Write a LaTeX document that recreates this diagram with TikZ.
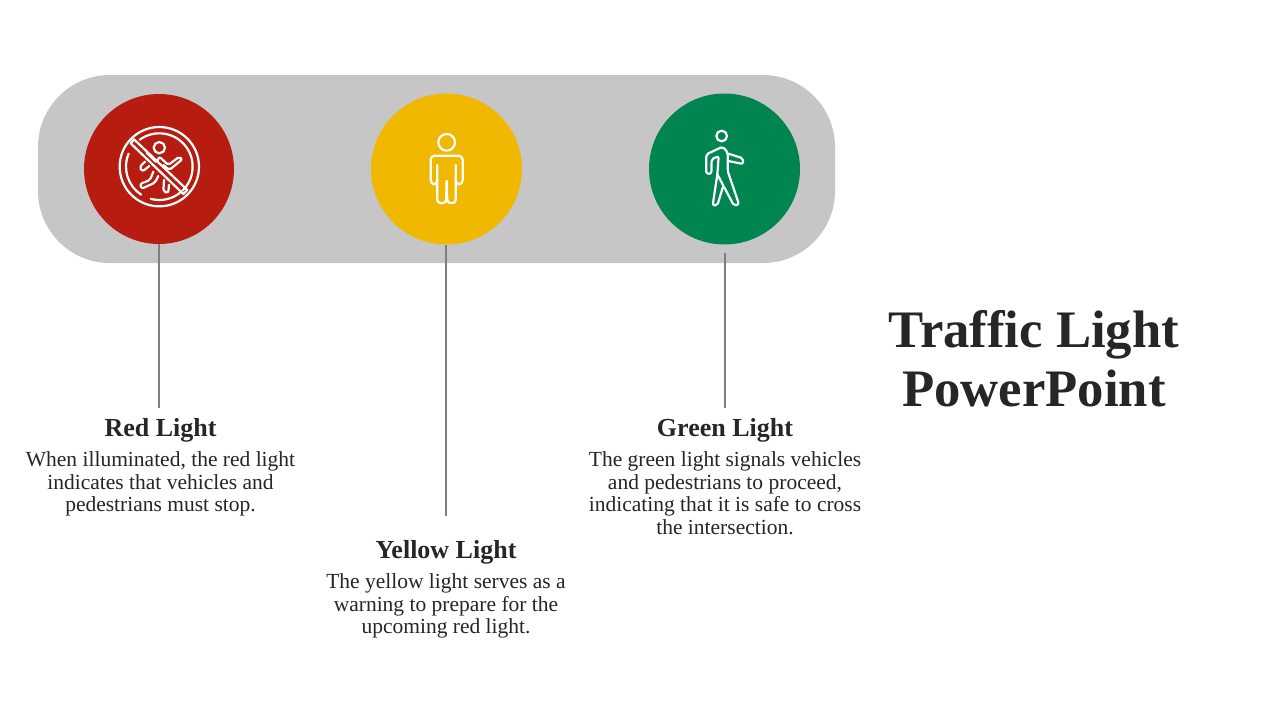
\documentclass[tikz,border=0pt]{standalone}
\usepackage{fontspec}
\setmainfont{Liberation Serif}
\definecolor{barcol}{HTML}{C6C6C6}
\definecolor{redcol}{HTML}{B71C10}
\definecolor{yelcol}{HTML}{F0B800}
\definecolor{grecol}{HTML}{008450}
\definecolor{txtcol}{HTML}{262626}
\definecolor{linecol}{HTML}{7F7F7F}
\tikzset{
  lamp/.style={circle,inner sep=0pt,minimum size=#1},
  stem/.style={draw=linecol,line width=1.6pt},
  icon/.style={draw=white,line width=2.2pt,line join=round,line cap=round},
  heading/.style={text=txtcol,font=\fontsize{26}{28}\selectfont\bfseries,anchor=base,inner sep=0pt},
  body/.style={text=txtcol,font=\fontsize{21.5}{22.6}\selectfont,align=center,anchor=north,inner sep=0pt},
  titletext/.style={text=txtcol,font=\fontsize{52.7}{59}\selectfont\bfseries,align=center,anchor=center,inner sep=0pt}
}
\begin{document}
\begin{tikzpicture}[x=1pt,y=-1pt]
\useasboundingbox (0,0) rectangle (1280,720);
\fill[white] (0,0) rectangle (1280,720);
\fill[barcol,rounded corners=72pt] (38,75) rectangle (835,263);
\node[lamp=150pt,fill=redcol] (red) at (159,169) {};
\node[lamp=151pt,fill=yelcol] (yellow) at (446.5,169) {};
\node[lamp=151pt,fill=grecol] (green) at (724.5,169) {};
% connectors
\coordinate (redend) at (159,408);
\coordinate (yelend) at (446,516);
\coordinate (grestart) at (725,253);
\coordinate (greend) at (725,408);
\draw[stem] (red.south) -- (redend);
\draw[stem] (yellow.south -| yelend) -- (yelend);
\draw[stem] (grestart) -- (greend);
% red icon
\begin{scope}[shift={(100,110)},x=0.33333pt,y=-0.33333pt]
\draw[icon] (178,170) circle (119);
\begin{scope}[shift={(178,170)}]
\draw[icon] (-126:100) arc[start angle=-126,end angle=46,radius=100];
\draw[icon] (203:100) arc[start angle=203,end angle=123,radius=100];
\draw[icon] (105:100) arc[start angle=105,end angle=52,radius=100];
\end{scope}
\draw[icon] (178,113) circle (17);
\draw[icon] (92,100) -- (102,88) -- (262,240) -- (250,252) -- cycle;
\draw[icon,rounded corners=2pt] (140,128) -- (170,158) -- (178,140) -- (205,165) -- (238,140) -- (247,148) -- (208,180) -- (190,165);
\draw[icon,rounded corners=2pt] (135,155) -- (118,172) -- (128,184) -- (148,168);
\draw[icon,rounded corners=2pt] (160,185) -- (150,210) -- (120,222) -- (125,236) -- (165,218) -- (175,198);
\draw[icon,rounded corners=2pt] (192,210) -- (190,245) -- (205,248) -- (207,224);
\end{scope}
% yellow icon
\begin{scope}[shift={(400,115)},x=0.33333pt,y=-0.33333pt]
\draw[icon] (140,82) circle (25);
\draw[icon,rounded corners=4pt] (112,150) -- (112,208) -- (92,208) -- (92,122) -- (188,122) -- (188,208) -- (167,208) -- (167,150);
\draw[icon,rounded corners=3pt] (112,195) -- (112,264) -- (138,264) -- (140,198);
\draw[icon,rounded corners=3pt] (140,198) -- (142,264) -- (167,264) -- (167,195);
\end{scope}
% green icon
\begin{scope}[shift={(675,115)},x=0.33333pt,y=-0.33333pt]
\draw[icon] (140,63) circle (16);
\draw[icon,rounded corners=2pt] (158,112) -- (143,95) -- (94,118) -- (94,176) -- (109,176) -- (110,132) -- (131,124) -- (127,178) -- (113,271) -- (127,271) -- (145,212) -- (177,272) -- (192,268) -- (158,168) -- cycle;
\draw[icon,rounded corners=2pt] (160,116) -- (204,130) -- (204,147) -- (160,138);
\draw[icon] (127,178) -- (145,212);
\end{scope}
% labels
\node[heading] (redhead) at (160.5,436) {Red Light};
\node[body] (redbody) at (160.5,451.5) {When illuminated, the red light\\indicates that vehicles and\\pedestrians must stop.};
\node[heading] (yelhead) at (446,558) {Yellow Light};
\node[body] (yelbody) at (446,573.5) {The yellow light serves as a\\warning to prepare for the\\upcoming red light.};
\node[heading] (grehead) at (725,436) {Green Light};
\node[body] (grebody) at (725,451.5) {The green light signals vehicles\\and pedestrians to proceed,\\indicating that it is safe to cross\\the intersection.};
\node[titletext] (title) at (1034,359) {Traffic Light\\PowerPoint};
\end{tikzpicture}
\end{document}
